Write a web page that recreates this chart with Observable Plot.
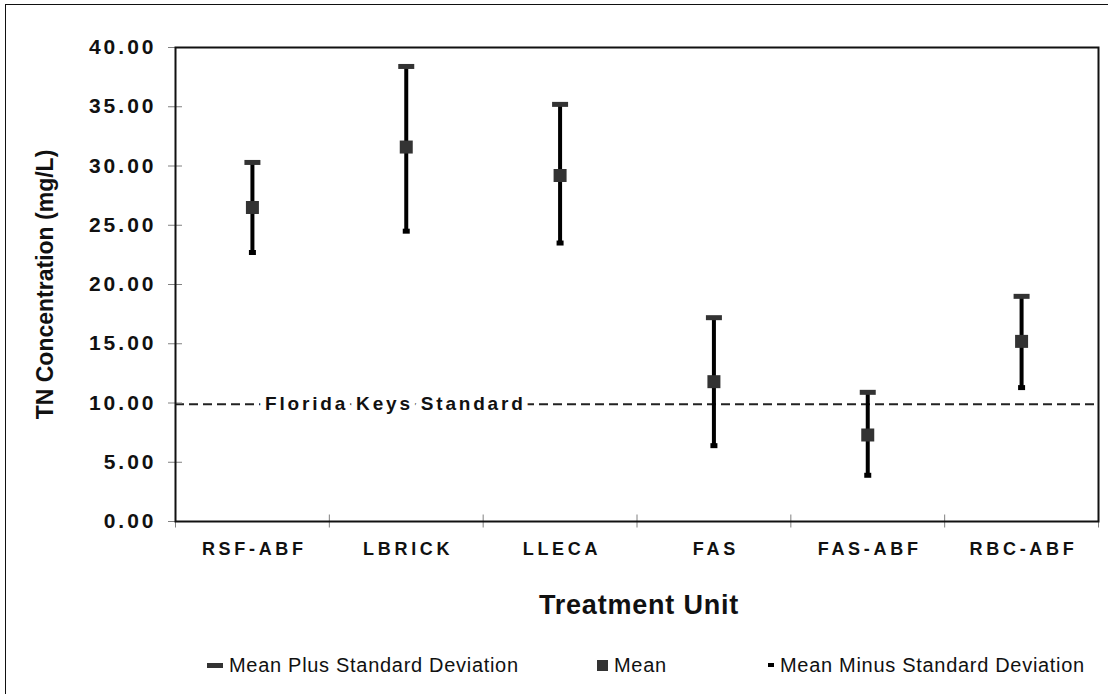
<!DOCTYPE html>
<html>
<head>
<meta charset="utf-8">
<script src="https://cdn.jsdelivr.net/npm/d3@7"></script>
<script src="https://cdn.jsdelivr.net/npm/@observablehq/plot@0.6"></script>
<style>
  body { margin: 0; background: #fff; font-family: "Liberation Sans", Arial, sans-serif; }
  #wrap { position: relative; width: 1108px; height: 694px; overflow: hidden; background: #fff; }
  #chart { position: absolute; left: 0; top: 0; }
  #frame { position: absolute; left: 5px; top: 4px; width: 1130px; height: 730px; border: 1.5px solid #111; pointer-events: none; }
  #legend { position: absolute; left: 0; top: 650px; width: 1108px; height: 32px; font-size: 20px; letter-spacing: 0.7px; color: #111; }
  .item { position: absolute; top: 0; height: 30px; display: flex; align-items: center; white-space: nowrap; }
  .sw { display: inline-block; margin-right: 6px; }
  g[aria-label="y-axis tick label"] { letter-spacing: 3px; font-size: 21px; font-weight: bold; }
  g[aria-label="x-axis tick label"] { letter-spacing: 3.7px; font-size: 18px; font-weight: bold; }
</style>
</head>
<body>
<div id="wrap">
  <div id="chart"></div>
  <div id="legend"></div>
  <div id="frame"></div>
</div>
<script>
// ---- data ----
const categories = ["RSF-ABF", "LBRICK", "LLECA", "FAS", "FAS-ABF", "RBC-ABF"];
const meanPlusSD  = [30.3, 38.4, 35.2, 17.2, 10.9, 19.0];
const meanValues  = [26.5, 31.6, 29.2, 11.8, 7.3, 15.2];
const meanMinusSD = [22.7, 24.5, 23.5, 6.4, 3.9, 11.3];
const yTicks = [0, 5, 10, 15, 20, 25, 30, 35, 40];
const floridaKeysStandard = 9.9;
const standardLabel = "Florida Keys Standard";
const standardLabelPos = 1.42;   // position along the category axis (in category units)
const yTitle = "TN Concentration (mg/L)";
const xTitle = "Treatment Unit";
const legendLabels = ["Mean Plus Standard Deviation", "Mean", "Mean Minus Standard Deviation"];

// ---- table built from the arrays ----
const rows = categories.map((c, i) => ({
  cat: c, pos: i + 0.5, hi: meanPlusSD[i], mean: meanValues[i], lo: meanMinusSD[i]
}));
const boundaries = d3.range(categories.length + 1);

// custom rectangular symbol
const rectSymbol = (w, h) => ({ draw(ctx) { ctx.rect(-w / 2, -h / 2, w, h); } });

const chart = Plot.plot({
  width: 1108,
  height: 640,
  marginLeft: 175,
  marginRight: 10,
  marginTop: 47,
  marginBottom: 119,
  x: { domain: [0, categories.length] },
  y: { domain: [0, 40] },
  style: { fontFamily: "Liberation Sans, Arial, sans-serif", background: "transparent", color: "#111" },
  marks: [
    Plot.ruleY([floridaKeysStandard], { stroke: "#222", strokeWidth: 2, strokeDasharray: "9,5" }),
    Plot.text([{ label: standardLabel, pos: standardLabelPos, y: floridaKeysStandard }], {
      x: "pos", y: "y", text: "label", fontSize: 19, fontWeight: "bold", fill: "#111",
      stroke: "white", strokeWidth: 12, paintOrder: "stroke", strokeLinejoin: "round",
      dx: 1.4
    }),
    // y tick lines (crossing the axis)
    Plot.axisY(yTicks, { tickSize: 14, dx: 7, stroke: "#808080", fill: "none", label: null }),
    // y tick labels
    Plot.axisY(yTicks, { tickSize: 0, tickPadding: 19, tickFormat: d3.format(".2f"), fontSize: 21, fontWeight: "bold", fill: "#111", label: null }),
    // x tick lines at category boundaries (crossing the axis)
    Plot.axisX(boundaries, { tickSize: 13, dy: -6.5, stroke: "#808080", fill: "none", label: null }),
    // x category labels
    Plot.axisX(rows.map(d => d.pos), { tickSize: 0, tickPadding: 21, tickFormat: p => categories[Math.floor(p)], fontSize: 18, fontWeight: "bold", fill: "#111", dx: 1.9, label: null }),
    Plot.frame({ stroke: "#111", strokeWidth: 2 }),
    // error bars
    Plot.ruleX(rows, { x: "pos", y1: "lo", y2: "hi", stroke: "#000", strokeWidth: 4 }),
    Plot.dot(rows, { x: "pos", y: "hi", symbol: rectSymbol(16, 5), fill: "#333", stroke: "none" }),
    Plot.dot(rows, { x: "pos", y: "lo", symbol: rectSymbol(7, 5), fill: "#000", stroke: "none" }),
    Plot.dot(rows, { x: "pos", y: "mean", symbol: rectSymbol(13, 13), fill: "#333", stroke: "none" }),
    // titles
    Plot.text([yTitle], { text: d => d, frameAnchor: "left", textAnchor: "middle", lineAnchor: "middle", dx: -130, rotate: -90, fontSize: 23, fontWeight: "bold", fill: "#111" }),
    Plot.text([xTitle], { text: d => d, frameAnchor: "bottom", textAnchor: "middle", lineAnchor: "middle", dy: 84, dx: 2, fontSize: 27, fontWeight: "bold", fill: "#111" })
  ]
});
document.getElementById("chart").appendChild(chart);

// letter spacing for annotation and title texts
chart.querySelectorAll("text").forEach(t => {
  if (t.textContent === standardLabel) t.style.letterSpacing = "2.8px";
  if (t.textContent === xTitle) t.style.letterSpacing = "0.8px";
});

// ---- legend (HTML, below the SVG) ----
const legend = document.getElementById("legend");
const swatches = [
  { left: 207, w: 16, h: 5, color: "#333" },
  { left: 597, w: 11, h: 11, color: "#333" },
  { left: 768, w: 6, h: 4, color: "#000" }
];
legendLabels.forEach((lab, i) => {
  const s = swatches[i];
  const item = document.createElement("div");
  item.className = "item";
  item.style.left = s.left + "px";
  const sw = document.createElement("span");
  sw.className = "sw";
  sw.style.width = s.w + "px";
  sw.style.height = s.h + "px";
  sw.style.background = s.color;
  const tx = document.createElement("span");
  tx.textContent = lab;
  item.appendChild(sw);
  item.appendChild(tx);
  legend.appendChild(item);
});
</script>
</body>
</html>
